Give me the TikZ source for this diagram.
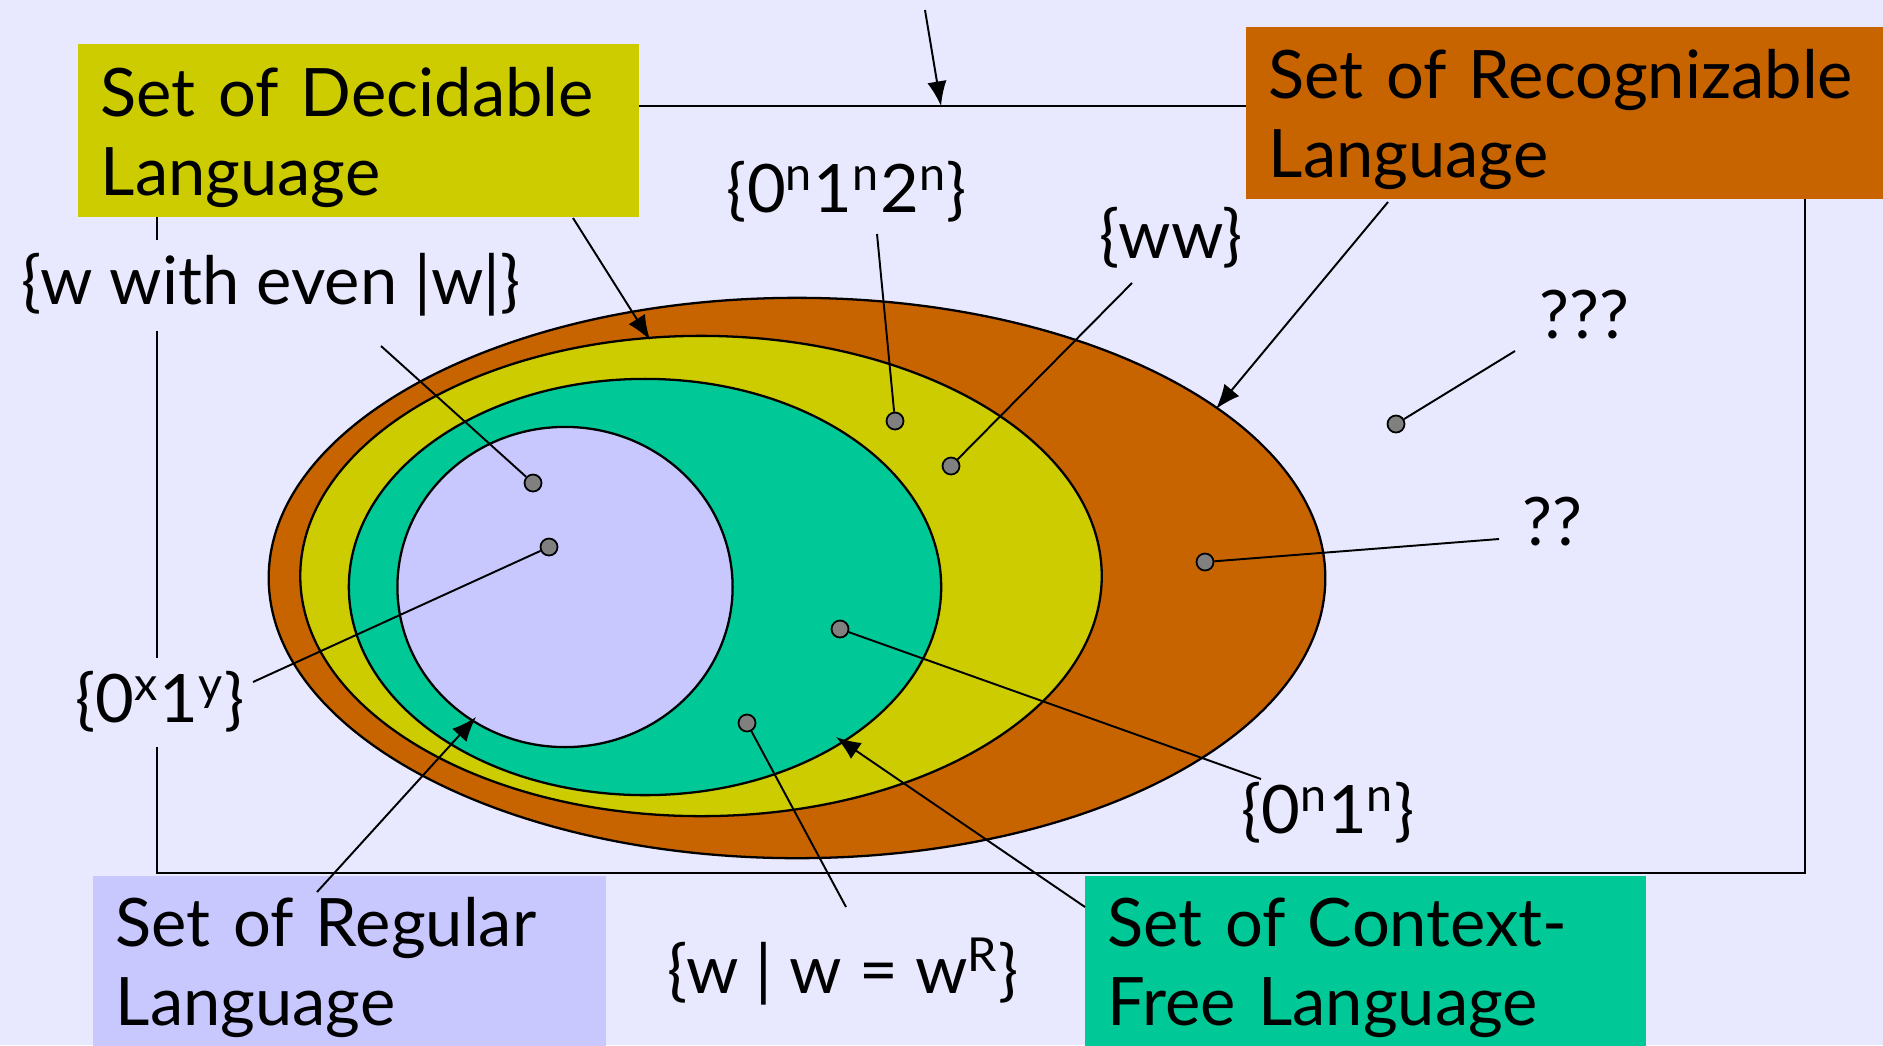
\documentclass[tikz,border=0pt]{standalone}
\usepackage{fontspec}
\setmainfont{Lato}
\usetikzlibrary{arrows.meta}
\definecolor{bgc}{HTML}{E8E8FF}
\definecolor{recog}{HTML}{C86400}
\definecolor{decid}{HTML}{CCCC00}
\definecolor{cflc}{HTML}{00C896}
\definecolor{regc}{HTML}{C8C8FF}
\definecolor{dotc}{HTML}{808080}
\tikzset{
  frameline/.style={draw=black, line width=0.65pt},
  ell/.style={draw=black, line width=0.65pt},
  lead/.style={draw=black, line width=0.55pt},
  arr/.style={draw=black, line width=0.55pt, -{Latex[length=7pt,width=5.5pt]}},
  dotn/.style={circle, draw=black, fill=dotc, line width=0.5pt, minimum size=0.17cm, inner sep=0pt},
  lbl/.style={fill=bgc, inner sep=4pt, font=\fontsize{19}{23}\selectfont},
  setbox/.style={anchor=north west, align=left, inner xsep=0.23cm, inner ysep=0pt, font=\fontsize{19}{22.5}\selectfont},
}
\newcommand{\sps}[1]{\textsuperscript{#1}}
\newcommand{\topstrut}{\rule{0pt}{18pt}}
\begin{document}
\begin{tikzpicture}[x=0.01cm,y=-0.01cm]
\path[fill=bgc] (0,0) rectangle (1883,1045);
\useasboundingbox (0,0) rectangle (1883,1045);
% frame
\draw[frameline] (157,106) rectangle (1805,873);
% nested sets
\draw[ell, fill=recog] (797,578) ellipse [x radius=5.28cm, y radius=2.80cm];
\draw[ell, fill=decid] (701,576) ellipse [x radius=4.005cm, y radius=2.40cm];
\draw[ell, fill=cflc] (645,587) ellipse [x radius=2.96cm, y radius=2.08cm];
\draw[ell, fill=regc] (565,587) ellipse [x radius=1.675cm, y radius=1.60cm];
% labels
\node[lbl] (lEven) at (271,285) {\{w with even |w|\}};
\node[lbl] (lXY) at (160,702) {\{0\sps{x}1\sps{y}\}};
\node[lbl] (lTri) at (847,192) {\{0\sps{n}1\sps{n}2\sps{n}\}};
\node[lbl] (lWW) at (1171,238) {\{ww\}};
\node[lbl] (lQ3) at (1584,315) {???};
\node[lbl] (lQ2) at (1552,522) {??};
\node[lbl] (lNN) at (1328,813) {\{0\sps{n}1\sps{n}\}};
\node[lbl] (lPal) at (843,972) {\{w | w = w\sps{R}\}};
% dots
\node[dotn] (d1) at (533,483) {};
\node[dotn] (d2) at (549,547) {};
\node[dotn] (d3) at (895,421) {};
\node[dotn] (d4) at (951,466) {};
\node[dotn] (d5) at (1396,424) {};
\node[dotn] (d6) at (1205,562) {};
\node[dotn] (d7) at (840,629) {};
\node[dotn] (d8) at (747,723) {};
% leader start points
\coordinate (sEven) at (381,346);
\coordinate (sXY) at (253,682);
\coordinate (sTri) at (877,234);
\coordinate (sWW) at (1132,283);
\coordinate (sQ3) at (1515,351);
\coordinate (sQ2) at (1499,539);
\coordinate (sNN) at (1261,779);
\coordinate (sPal) at (846,907);
\draw[lead] (sEven) -- (d1);
\draw[lead] (sXY) -- (d2);
\draw[lead] (sTri) -- (d3);
\draw[lead] (sWW) -- (d4);
\draw[lead] (sQ3) -- (d5);
\draw[lead] (sQ2) -- (d6);
\draw[lead] (sNN) -- (d7);
\draw[lead] (sPal) -- (d8);
% set boxes
\node[setbox, fill=decid, minimum width=5.61cm, minimum height=1.73cm, text width=5.15cm] (bDec) at (77,43) {\topstrut Set of Decidable\\Language};
\node[setbox, fill=recog, minimum width=6.38cm, minimum height=1.72cm, text width=5.94cm] (bRec) at (1245,26) {\topstrut Set of Recognizable\\Language};
\node[setbox, fill=regc, minimum width=5.13cm, minimum height=1.70cm, text width=4.67cm] (bReg) at (92,875) {\topstrut Set of Regular\\Language};
\node[setbox, fill=cflc, minimum width=5.61cm, minimum height=1.70cm, text width=5.15cm] (bCF) at (1084,875) {\topstrut Set of Context-\\Free Language};
% arrows
\coordinate (aDecS) at (573,218);
\coordinate (aDecT) at (650,340);
\coordinate (aRecS) at (1388,202);
\coordinate (aRecT) at (1216,409);
\coordinate (aRegS) at (317,892);
\coordinate (aRegT) at (476,717);
\coordinate (aCFS) at (1085,907);
\coordinate (aCFT) at (836,737);
\coordinate (aTopS) at (925,10);
\coordinate (aTopT) at (941,106);
\draw[arr] (aDecS) -- (aDecT);
\draw[arr] (aRecS) -- (aRecT);
\draw[arr] (aRegS) -- (aRegT);
\draw[arr] (aCFS) -- (aCFT);
\draw[arr] (aTopS) -- (aTopT);
\end{tikzpicture}
\end{document}
